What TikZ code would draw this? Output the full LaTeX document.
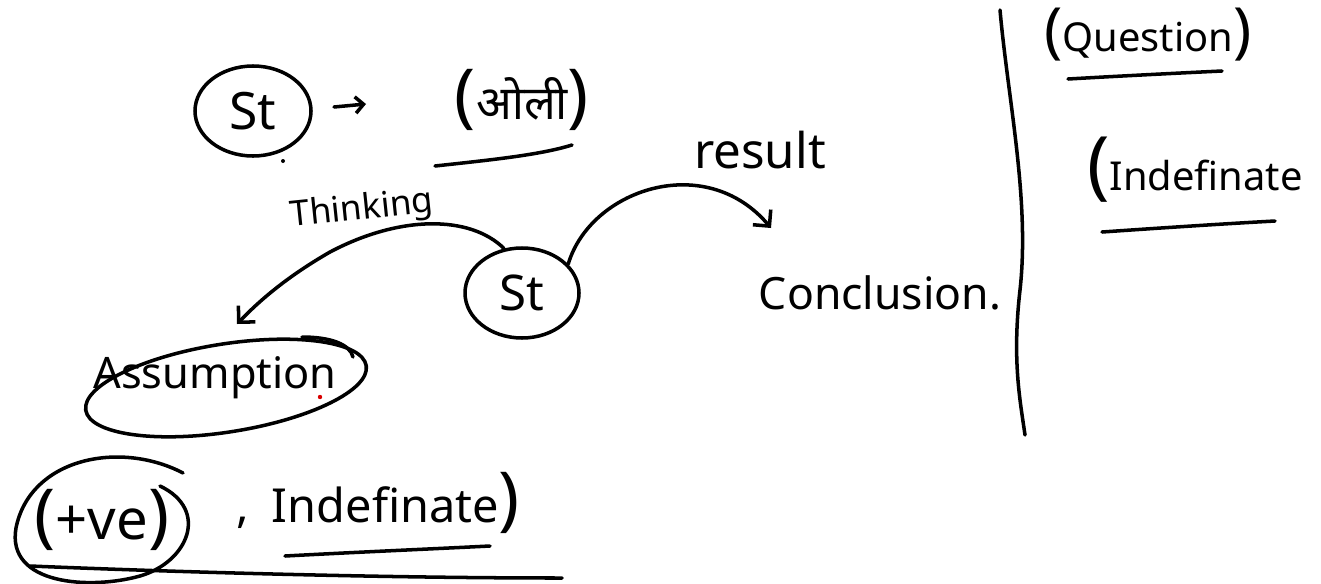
\documentclass[tikz,border=0pt]{standalone}
\usepackage{fontspec}
\setmainfont{Noto Sans}
\newfontfamily\devfont[Script=Devanagari]{Noto Sans}
\usetikzlibrary{arrows.meta,shapes.geometric}
\newcommand\bigpar[2][56]{{\fontsize{#1}{#1}\selectfont #2}}
\tikzset{
  pen/.style={line width=3pt, line cap=round, line join=round, draw=black},
  hw/.style={inner sep=0pt, font=\fontsize{#1}{#1}\selectfont},
  hw/.default=38,
  tip/.style={-{Straight Barb[length=10pt,width=20pt,line width=3pt]}},
  bubble/.style={pen, ellipse, inner sep=0pt},
}
\begin{document}
\begin{tikzpicture}[x=0.03cm,y=-0.03cm]
\useasboundingbox (0,0) rectangle (1321,583);

% top row
\node[bubble, hw=44, minimum width=3.48cm, minimum height=2.7cm] (st1) at (253,111) {St};
\node[hw=40] (oli) at (522,100) {\bigpar[60]{(}{\devfont ओली}\bigpar[60]{)}};
\coordinate (a1) at (334,107);
\coordinate (a2) at (366,104);
\draw[pen, -{Straight Barb[length=7pt,width=14pt,line width=3pt]}] (a1) -- (a2);
\draw[pen] (435,166) .. controls (490,160) and (540,155) .. (572,145);
\fill (283,161) circle [radius=2];

% middle
\node[hw=30, rotate=6] (think) at (362,210) {Thinking};
\node[hw=42] (res) at (760,150) {result};
\node[hw=38] (conc) at (880,293) {Conclusion.};
\node[bubble, hw=42, minimum width=3.42cm, minimum height=2.7cm] (st2) at (522,293) {St};
\coordinate (thinkend) at (237,324);
\coordinate (resend) at (771,228);
\draw[pen, tip] (st2.112) .. controls (470,215) and (400,215) .. (330,252)
   .. controls (290,275) and (262,298) .. (thinkend);
\draw[pen, tip] (st2.32) .. controls (590,190) and (705,150) .. (resend);

% assumption
\node[hw=37] (assum) at (215,378) {Assumption};
\draw[pen, rotate around={9:(226,388)}] (226,388) ellipse [x radius=142, y radius=44];
\draw[pen] (302,337) .. controls (330,337) and (350,344) .. (353,357);
\fill[red!85!black] (320,397) circle [radius=2.2];

% bottom row
\node[hw=48] (pve) at (102,520) {\bigpar[60]{(}+ve\bigpar[60]{)}};
\draw[pen] (183,473) .. controls (120,440) and (30,458) .. (16,528)
   .. controls (6,585) and (90,590) .. (140,576)
   .. controls (188,562) and (210,510) .. (160,486);
\node[hw=40] (indef1) at (378,503) {,\,\,\,Indefinate\bigpar[60]{)}};
\draw[pen] (285,556) .. controls (360,552) and (430,549) .. (490,546);
\draw[pen] (30,566) .. controls (200,573) and (400,578) .. (562,578);

% divider
\draw[pen] (1000,10) .. controls (1008,100) and (1030,200) .. (1020,290)
   .. controls (1012,360) and (1020,400) .. (1025,435);

% right column
\node[hw=34] (quest) at (1148,35) {\bigpar[52]{(}Question\bigpar[52]{)}};
\draw[pen] (1068,79) .. controls (1120,76) and (1180,73) .. (1222,71);
\node[hw=34] (indef2) at (1195,170) {\bigpar[64]{(}Indefinate};
\draw[pen] (1102,232) .. controls (1160,228) and (1220,224) .. (1275,221);
\end{tikzpicture}
\end{document}
